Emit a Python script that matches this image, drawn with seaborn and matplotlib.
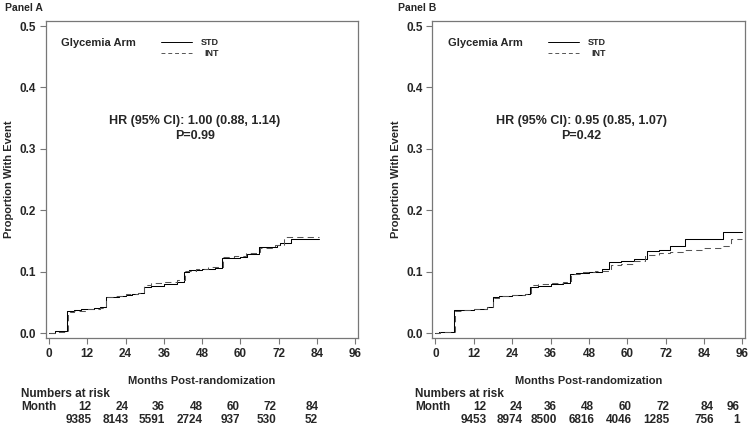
import numpy as np
import pandas as pd
import matplotlib
matplotlib.use("Agg")
import matplotlib.pyplot as plt
import seaborn as sns
from matplotlib.lines import Line2D
from matplotlib.transforms import blended_transform_factory

sns.set_style("white")
plt.rcParams["font.family"] = ["Liberation Sans", "DejaVu Sans"]
plt.rcParams["font.weight"] = "bold"

# ---- cumulative incidence step knots ----
a_std_t = [0, 1.8, 5.8, 8, 10, 12, 14, 16, 17.8, 20, 22, 24, 26, 28, 29.8, 32, 36, 40,
           42.3, 44, 48, 52, 54.3, 56, 60, 62, 66, 71.4, 72.5, 76, 84.5]
a_std_v = [0, 0.003, 0.036, 0.037, 0.039, 0.040, 0.041, 0.042, 0.058, 0.059, 0.061, 0.062,
           0.063, 0.065, 0.075, 0.077, 0.080, 0.083, 0.100, 0.102, 0.104, 0.106, 0.122,
           0.123, 0.124, 0.128, 0.140, 0.143, 0.146, 0.154, 0.154]
a_int_t = [0, 2, 5.9, 8, 12, 16, 17.9, 20, 24, 28, 29.9, 32, 36, 40, 42.5, 46, 50, 54.5,
           58, 61.8, 66.2, 71, 73.8, 84.5]
a_int_v = [0, 0.002, 0.035, 0.036, 0.039, 0.041, 0.059, 0.061, 0.063, 0.066, 0.079, 0.081,
           0.083, 0.086, 0.101, 0.104, 0.107, 0.124, 0.125, 0.130, 0.139, 0.143, 0.157, 0.157]

b_std_t = [0, 1, 5.8, 8, 12, 16, 17.9, 20, 24, 28, 29.6, 32, 36, 40, 42.2, 44, 48, 52,
           54.2, 58, 62, 66, 70, 73.4, 78, 84, 90, 96]
b_std_v = [0, 0.001, 0.037, 0.038, 0.040, 0.042, 0.058, 0.060, 0.062, 0.064, 0.075, 0.077,
           0.080, 0.082, 0.097, 0.098, 0.100, 0.105, 0.115, 0.118, 0.121, 0.134, 0.136,
           0.142, 0.153, 0.154, 0.165, 0.165]
b_int_t = [0, 1.5, 6, 8, 12, 16, 18, 20, 24, 28, 30, 32, 36, 40, 42.4, 46, 50, 54.8, 58,
           62, 65.6, 70, 73.4, 78, 84, 90, 92.4, 96]
b_int_v = [0, 0.001, 0.036, 0.038, 0.040, 0.043, 0.057, 0.060, 0.062, 0.064, 0.078, 0.080,
           0.081, 0.083, 0.096, 0.099, 0.101, 0.111, 0.113, 0.118, 0.127, 0.130, 0.132,
           0.136, 0.138, 0.142, 0.153, 0.153]

# ---- numbers at risk ----
a_risk_month = [12, 24, 36, 48, 60, 72, 84]
a_risk_n = [9385, 8143, 5591, 2724, 937, 530, 52]
b_risk_month = [12, 24, 36, 48, 60, 72, 84, 96]
b_risk_n = [9453, 8974, 8500, 6816, 4046, 1285, 756, 1]

panels = ["Panel A", "Panel B"]
hr_text = ["HR (95% CI): 1.00 (0.88, 1.14)", "HR (95% CI): 0.95 (0.85, 1.07)"]
p_text = ["P=0.99", "P=0.42"]

# right edges of the risk-table columns, in months (layout only)
a_risk_x = [13.4, 25.1, 36.4, 48.3, 59.9, 71.2, 84.4]
b_risk_x = [16.0, 27.2, 38.0, 49.6, 61.3, 73.3, 87.0, 95.1]

fig = plt.figure(figsize=(7.5, 4.26), dpi=100)
axA = fig.add_axes([0.061, 0.2066, 0.416, 0.7434])
axB = fig.add_axes([0.5764, 0.2066, 0.417, 0.7434])

data = [
    (axA, a_std_t, a_std_v, a_int_t, a_int_v, a_risk_month, a_risk_n, a_risk_x),
    (axB, b_std_t, b_std_v, b_int_t, b_int_v, b_risk_month, b_risk_n, b_risk_x),
]

spine_col = "#777777"
for i, (ax, st, sv, it, iv, rm, rn, rx) in enumerate(data):
    df = pd.concat([
        pd.DataFrame({"month": st, "prop": sv, "arm": "STD"}),
        pd.DataFrame({"month": it, "prop": iv, "arm": "INT"}),
    ])
    sns.lineplot(data=df, x="month", y="prop", style="arm",
                 dashes={"STD": "", "INT": (6, 4)}, color="black",
                 drawstyle="steps-post", estimator=None, lw=0.75,
                 legend=False, ax=ax)
    ax.lines[1].set_color("#555555")

    ax.set_xlim(-1, 96.8)
    ax.set_ylim(-0.008, 0.5077)
    ax.set_xticks(np.arange(0, 97, 12))
    ax.set_yticks([0.0, 0.1, 0.2, 0.3, 0.4, 0.5])
    ax.set_yticklabels(["0.0", "0.1", "0.2", "0.3", "0.4", "0.5"])
    ax.tick_params(axis="both", direction="out", length=4, width=0.8,
                   color=spine_col, labelsize=8.5, pad=3, left=True, bottom=True)
    for lab in ax.get_xticklabels() + ax.get_yticklabels():
        lab.set_fontweight("bold")
    for s in ax.spines.values():
        s.set_color(spine_col)
        s.set_linewidth(0.9)
    ax.set_xlabel("Months Post-randomization", fontsize=8, fontweight="bold", labelpad=12)
    ax.set_ylabel("Proportion With Event", fontsize=8, fontweight="bold", labelpad=4)

    # legend block
    ax.text(0.049, 0.932, "Glycemia Arm", transform=ax.transAxes, fontsize=8,
            fontweight="bold", va="center", ha="left")
    ax.add_line(Line2D([0.37, 0.47], [0.935, 0.935], transform=ax.transAxes,
                       color="black", lw=0.7))
    ax.add_line(Line2D([0.37, 0.47], [0.900, 0.900], transform=ax.transAxes,
                       color="#555555", lw=0.7, dashes=(4, 3)))
    ax.text(0.498, 0.932, "STD", transform=ax.transAxes, fontsize=6.5,
            fontweight="bold", va="center", ha="left")
    ax.text(0.508, 0.897, "INT", transform=ax.transAxes, fontsize=6.5,
            fontweight="bold", va="center", ha="left")

    # HR annotation
    ax.text(0.477, 0.685, hr_text[i], transform=ax.transAxes, fontsize=9,
            fontweight="bold", ha="center", va="center")
    ax.text(0.477, 0.637, p_text[i], transform=ax.transAxes, fontsize=9,
            fontweight="bold", ha="center", va="center")

    # numbers at risk table
    tr = blended_transform_factory(ax.transData, fig.transFigure)
    x0 = 21 / 750 if i == 0 else 415 / 750
    fig.text(x0, 1 - 394 / 426, "Numbers at risk", fontsize=8.5, fontweight="bold",
             va="center", ha="left")
    fig.text(x0, 1 - 407 / 426, "Month", fontsize=8.5, fontweight="bold",
             va="center", ha="left")
    for m, n, x in zip(rm, rn, rx):
        ax.text(x, 1 - 407 / 426, str(m), transform=tr, fontsize=8.5,
                fontweight="bold", ha="right", va="center", clip_on=False)
        ax.text(x, 1 - 420 / 426, str(n), transform=tr, fontsize=8.5,
                fontweight="bold", ha="right", va="center", clip_on=False)

    fig.text(5 / 750 if i == 0 else 398 / 750, 1 - 8 / 426, panels[i],
             fontsize=7.5, fontweight="bold", va="center", ha="left")

fig.savefig("out.png", dpi=100)
